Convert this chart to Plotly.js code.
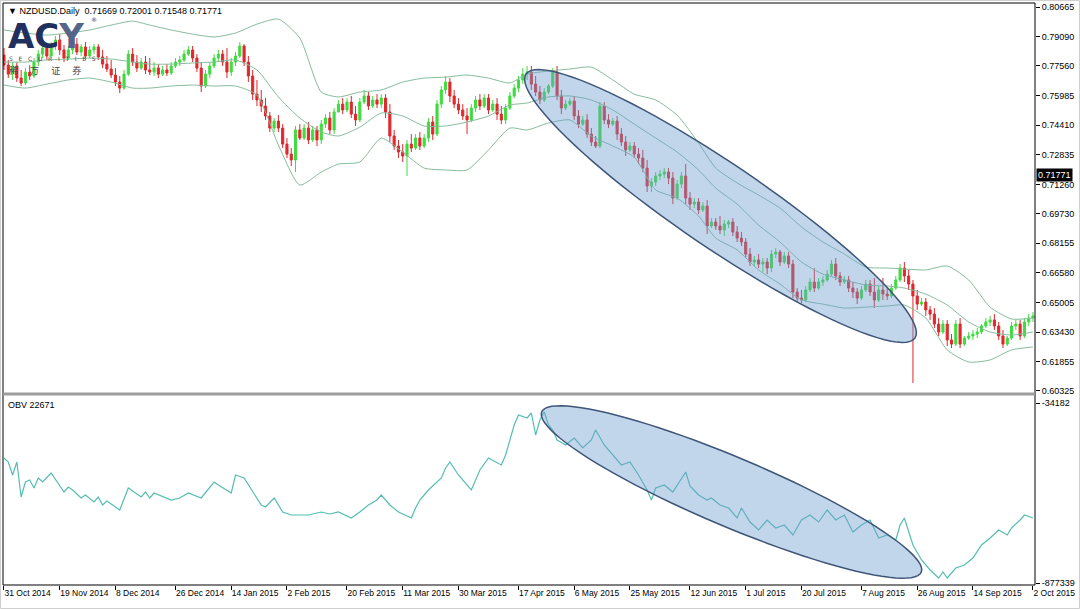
<!DOCTYPE html>
<html><head><meta charset="utf-8">
<script src="https://cdn.plot.ly/plotly-3.0.1.min.js"></script>
<style>html,body{margin:0;padding:0;background:#fff;}#chart{width:1080px;height:609px;}</style>
</head><body><div id="chart"></div>
<script>
// ---- Price data (NZDUSD daily, one bar per weekday, 31 Oct 2014 .. 2 Oct 2015) ----
const open = [
.7812,.7759,.7711,.7754,.7690,.7664,.7722,.7701,.7775,.7817,
.7849,.7807,.7865,.7892,.7839,.7796,.7839,.7870,.7828,.7855,
.7807,.7839,.7855,.7802,.7764,.7738,.7706,.7669,.7637,.7711,
.7817,.7775,.7743,.7775,.7733,.7722,.7743,.7711,.7733,.7717,
.7754,.7775,.7786,.7817,.7839,.7796,.7743,.7648,.7711,.7754,
.7796,.7817,.7775,.7722,.7775,.7807,.7860,.7775,.7701,.7605,
.7574,.7542,.7489,.7425,.7462,.7425,.7340,.7287,.7256,.7415,
.7372,.7425,.7362,.7415,.7362,.7446,.7478,.7415,.7510,.7552,
.7521,.7563,.7499,.7468,.7563,.7595,.7542,.7574,.7552,.7584,
.7510,.7383,.7330,.7298,.7277,.7340,.7319,.7372,.7330,.7372,
.7457,.7393,.7552,.7627,.7669,.7595,.7552,.7521,.7489,.7468,
.7531,.7574,.7542,.7584,.7521,.7552,.7499,.7468,.7531,.7595,
.7637,.7680,.7711,.7722,.7658,.7616,.7574,.7616,.7648,.7722,
.7595,.7531,.7552,.7568,.7489,.7446,.7468,.7393,.7351,.7330,
.7542,.7468,.7446,.7462,.7393,.7351,.7309,.7330,.7287,.7266,
.7213,.7118,.7139,.7171,.7181,.7192,.7160,.7054,.7128,.7171,
.7054,.7022,.7033,.6991,.7012,.6906,.6927,.6906,.6885,.6916,
.6927,.6874,.6842,.6821,.6757,.6715,.6726,.6704,.6715,.6683,
.6757,.6768,.6715,.6747,.6704,.6556,.6524,.6514,.6567,.6609,
.6577,.6609,.6620,.6651,.6704,.6641,.6609,.6620,.6577,.6556,
.6524,.6567,.6598,.6556,.6514,.6567,.6545,.6535,.6577,.6620,
.6683,.6641,.6598,.6535,.6492,.6503,.6461,.6439,.6386,.6344,
.6386,.6302,.6280,.6386,.6280,.6312,.6323,.6333,.6344,.6376,
.6397,.6408,.6376,.6323,.6280,.6312,.6376,.6386,.6323,.6397,
.6418];
const high = [
.7849,.7786,.7775,.7775,.7733,.7743,.7759,.7796,.7839,.7870,
.7870,.7881,.7913,.7923,.7865,.7860,.7892,.7902,.7870,.7881,
.7860,.7870,.7870,.7839,.7807,.7786,.7743,.7701,.7733,.7839,
.7849,.7812,.7796,.7807,.7796,.7775,.7764,.7754,.7764,.7775,
.7796,.7807,.7839,.7860,.7860,.7817,.7775,.7733,.7775,.7817,
.7839,.7839,.7849,.7796,.7828,.7881,.7870,.7807,.7733,.7680,
.7627,.7584,.7510,.7478,.7494,.7446,.7372,.7319,.7436,.7446,
.7446,.7457,.7436,.7436,.7468,.7499,.7510,.7531,.7574,.7584,
.7584,.7595,.7542,.7584,.7627,.7616,.7595,.7605,.7605,.7605,
.7552,.7415,.7362,.7340,.7362,.7393,.7393,.7404,.7393,.7478,
.7489,.7574,.7648,.7701,.7690,.7627,.7584,.7552,.7531,.7552,
.7595,.7605,.7605,.7605,.7574,.7584,.7542,.7552,.7616,.7658,
.7701,.7743,.7754,.7754,.7701,.7648,.7637,.7658,.7743,.7754,
.7627,.7574,.7584,.7595,.7521,.7489,.7499,.7425,.7383,.7563,
.7563,.7499,.7478,.7489,.7425,.7383,.7351,.7351,.7319,.7309,
.7256,.7160,.7192,.7203,.7213,.7213,.7192,.7150,.7192,.7234,
.7086,.7054,.7054,.7033,.7044,.6948,.6948,.6959,.6938,.6938,
.6948,.6906,.6874,.6842,.6789,.6747,.6757,.6736,.6736,.6779,
.6789,.6779,.6768,.6768,.6726,.6577,.6567,.6588,.6630,.6683,
.6630,.6641,.6673,.6726,.6736,.6662,.6641,.6641,.6609,.6577,
.6588,.6620,.6620,.6630,.6588,.6630,.6577,.6598,.6641,.6704,
.6715,.6673,.6620,.6567,.6524,.6524,.6482,.6471,.6418,.6408,
.6408,.6333,.6408,.6418,.6323,.6344,.6355,.6365,.6386,.6418,
.6429,.6439,.6397,.6355,.6323,.6397,.6408,.6408,.6418,.6439,
.6450];
const low = [
.7733,.7690,.7680,.7669,.7648,.7653,.7680,.7690,.7754,.7796,
.7786,.7796,.7839,.7812,.7775,.7786,.7817,.7812,.7807,.7786,
.7796,.7817,.7786,.7743,.7722,.7690,.7648,.7611,.7627,.7701,
.7754,.7722,.7733,.7711,.7706,.7701,.7690,.7701,.7701,.7706,
.7743,.7754,.7775,.7807,.7775,.7722,.7616,.7637,.7690,.7743,
.7775,.7754,.7690,.7701,.7754,.7796,.7754,.7669,.7574,.7542,
.7510,.7468,.7404,.7404,.7404,.7319,.7266,.7224,.7192,.7362,
.7362,.7340,.7351,.7330,.7340,.7425,.7393,.7393,.7510,.7499,
.7510,.7478,.7436,.7457,.7552,.7521,.7531,.7531,.7531,.7478,
.7351,.7309,.7266,.7245,.7171,.7298,.7309,.7309,.7319,.7351,
.7362,.7383,.7531,.7605,.7563,.7531,.7499,.7468,.7393,.7457,
.7510,.7521,.7531,.7499,.7510,.7468,.7446,.7446,.7521,.7584,
.7616,.7658,.7680,.7627,.7595,.7552,.7563,.7605,.7637,.7574,
.7499,.7521,.7542,.7468,.7425,.7436,.7372,.7330,.7319,.7319,
.7446,.7425,.7436,.7362,.7330,.7277,.7298,.7266,.7234,.7192,
.7086,.7086,.7118,.7150,.7160,.7128,.7022,.7044,.7107,.7022,
.6991,.7001,.6969,.6980,.6863,.6895,.6885,.6863,.6853,.6895,
.6853,.6821,.6800,.6736,.6694,.6694,.6683,.6662,.6651,.6662,
.6736,.6694,.6704,.6683,.6524,.6503,.6498,.6503,.6556,.6556,
.6567,.6588,.6609,.6641,.6620,.6588,.6598,.6556,.6524,.6492,
.6514,.6556,.6535,.6471,.6503,.6514,.6514,.6524,.6567,.6609,
.6609,.6567,.6074,.6461,.6482,.6429,.6408,.6365,.6323,.6333,
.6270,.6259,.6270,.6259,.6270,.6302,.6302,.6312,.6333,.6365,
.6376,.6355,.6302,.6259,.6270,.6302,.6355,.6302,.6312,.6376,
.6397];
const close = [
.7759,.7711,.7754,.7690,.7664,.7722,.7701,.7775,.7817,.7849,
.7807,.7865,.7892,.7839,.7796,.7839,.7870,.7828,.7855,.7807,
.7839,.7855,.7802,.7764,.7738,.7706,.7669,.7637,.7711,.7817,
.7775,.7743,.7775,.7733,.7722,.7743,.7711,.7733,.7717,.7754,
.7775,.7786,.7817,.7839,.7796,.7743,.7648,.7711,.7754,.7796,
.7817,.7775,.7722,.7775,.7807,.7860,.7775,.7701,.7605,.7574,
.7542,.7489,.7425,.7462,.7425,.7340,.7287,.7256,.7415,.7372,
.7425,.7362,.7415,.7362,.7446,.7478,.7415,.7510,.7552,.7521,
.7563,.7499,.7468,.7563,.7595,.7542,.7574,.7552,.7584,.7510,
.7383,.7330,.7298,.7277,.7340,.7319,.7372,.7330,.7372,.7457,
.7393,.7552,.7627,.7669,.7595,.7552,.7521,.7489,.7468,.7531,
.7574,.7542,.7584,.7521,.7552,.7499,.7468,.7531,.7595,.7637,
.7680,.7711,.7722,.7658,.7616,.7574,.7616,.7648,.7722,.7595,
.7531,.7552,.7568,.7489,.7446,.7468,.7393,.7351,.7330,.7542,
.7468,.7446,.7462,.7393,.7351,.7309,.7330,.7287,.7266,.7213,
.7118,.7139,.7171,.7181,.7192,.7160,.7054,.7128,.7171,.7054,
.7022,.7033,.6991,.7012,.6906,.6927,.6906,.6885,.6916,.6927,
.6874,.6842,.6821,.6757,.6715,.6726,.6704,.6715,.6683,.6757,
.6768,.6715,.6747,.6704,.6556,.6524,.6514,.6567,.6609,.6577,
.6609,.6620,.6651,.6704,.6641,.6609,.6620,.6577,.6556,.6524,
.6567,.6598,.6556,.6514,.6567,.6545,.6535,.6577,.6620,.6683,
.6641,.6598,.6535,.6492,.6503,.6461,.6439,.6386,.6344,.6386,
.6302,.6280,.6386,.6280,.6312,.6323,.6333,.6344,.6376,.6397,
.6408,.6376,.6323,.6280,.6312,.6376,.6386,.6323,.6397,.6418,
.6429];

// ---- Bollinger bands ----
const bandX = [0,5,10,15,20,25,30,34,39,44,49,54,59,64,69,74,78,83,88,93,98,103,108,113,118,122,127,132,137,142,147,152,157,162,166,171,176,181,186,191,196,201,206,210,215,220,225,230,235,240];
const bandUpper = [0.7945,0.7929,0.7918,0.7929,0.7945,0.7971,0.7992,0.7971,0.7945,0.7923,0.7908,0.7929,0.7976,0.8003,0.7902,0.7616,0.7590,0.7616,0.7627,0.7669,0.7690,0.7695,0.7706,0.7690,0.7664,0.7711,0.7727,0.7738,0.7748,0.7680,0.7605,0.7574,0.7494,0.7346,0.7213,0.7134,0.7070,0.7001,0.6901,0.6821,0.6757,0.6688,0.6683,0.6678,0.6673,0.6694,0.6620,0.6476,0.6413,0.6418];
const bandMiddle = [0.7775,0.7775,0.7786,0.7791,0.7796,0.7791,0.7775,0.7764,0.7764,0.7770,0.7775,0.7786,0.7733,0.7590,0.7478,0.7404,0.7383,0.7430,0.7505,0.7489,0.7436,0.7436,0.7457,0.7489,0.7547,0.7558,0.7590,0.7595,0.7574,0.7521,0.7446,0.7372,0.7298,0.7203,0.7107,0.7022,0.6911,0.6821,0.6715,0.6651,0.6620,0.6593,0.6588,0.6577,0.6545,0.6487,0.6397,0.6344,0.6328,0.6344];
const bandLower = [0.7653,0.7637,0.7658,0.7680,0.7690,0.7669,0.7637,0.7637,0.7648,0.7653,0.7648,0.7648,0.7600,0.7335,0.7123,0.7192,0.7234,0.7245,0.7372,0.7298,0.7213,0.7203,0.7203,0.7309,0.7425,0.7415,0.7452,0.7468,0.7383,0.7330,0.7271,0.7097,0.7054,0.6959,0.6842,0.6779,0.6673,0.6598,0.6514,0.6492,0.6471,0.6476,0.6482,0.6487,0.6418,0.6249,0.6185,0.6196,0.6249,0.6265];

// ---- OBV ----
const obvX = [0,1,2,3,4,5,6,7,8,9,11,14,15,16,18,19,21,22,23,24,27,29,32,33,34,35,39,41,43,46,49,50,53,54,56,57,60,61,63,65,67,68,71,74,76,78,81,83,85,87,88,90,92,95,96,97,99,102,103,104,106,109,111,113,116,117,118,119,120,122,123,124,125,126,127,128,129,131,133,135,137,138,140,142,144,146,148,150,151,152,154,156,158,159,160,162,164,165,167,169,171,172,174,176,178,180,182,184,186,188,190,192,194,196,198,200,202,204,206,208,209,210,212,214,216,218,219,220,222,224,226,228,230,232,234,235,237,238,240];
const obvValues = [-291802,-310538,-371430,-310538,-474478,-404218,-394850,-432322,-385482,-404218,
-362062,-451058,-427638,-441690,-479162,-465110,-497898,-474478,-511950,-493214,
-535370,-432322,-474478,-451058,-479162,-455742,-488530,-479162,-455742,-479162,
-404218,-418270,-455742,-371430,-385482,-418270,-511950,-521318,-479162,-544738,
-558790,-558790,-558790,-544738,-554106,-544738,-572842,-544738,-511950,-488530,
-465110,-511950,-544738,-572842,-526002,-488530,-441690,-385482,-338642,-310538,
-371430,-441690,-348010,-291802,-324590,-277750,-207490,-137230,-90390,-104442,
-81022,-184070,-113810,-76338,-137230,-160650,-207490,-230910,-198122,-244962,
-207490,-160650,-230910,-277750,-324590,-310538,-371430,-441690,-488530,-432322,
-418270,-451058,-385482,-357378,-422954,-465110,-488530,-479162,-511950,-526002,
-572842,-526002,-591578,-629050,-582210,-619682,-605630,-652470,-582210,-558790,
-591578,-535370,-582210,-558790,-638418,-605630,-582210,-666522,-652470,-675890,
-605630,-572842,-699310,-769570,-816410,-853882,-825778,-853882,-807042,-792990,
-760202,-699310,-666522,-629050,-652470,-619682,-582210,-558790,-572842];

// ---- Axis labels ----
const dateTickIdx = [0,13,26,40,53,66,80,93,106,120,133,146,160,173,186,200,213,226,240];
const dateTickText = ['31 Oct 2014','19 Nov 2014','8 Dec 2014','26 Dec 2014','14 Jan 2015','2 Feb 2015','20 Feb 2015','11 Mar 2015','30 Mar 2015','17 Apr 2015','6 May 2015','25 May 2015','12 Jun 2015','1 Jul 2015','20 Jul 2015','7 Aug 2015','26 Aug 2015','14 Sep 2015','2 Oct 2015'];
const priceTicks = [0.80665,0.79090,0.77560,0.75985,0.74410,0.72835,0.71260,0.69730,0.68155,0.66580,0.65005,0.63430,0.61855,0.60325];
const priceTickText = ['0.80665','0.79090','0.77560','0.75985','0.74410','0.72835','0.71260','0.69730','0.68155','0.66580','0.65005','0.63430','0.61855','0.60325'];
const obvTicks = [-34182,-877339];
const obvTickText = ['-34182','-877339'];
const lastPrice = 0.71771;

// ---- layout helpers (pixel -> paper) ----
const W=1080,H=609,L=3,R=45,T=3,B=24;
const PW=W-L-R, PH=H-T-B;
const px=x=>(x-L)/PW, py=y=>(H-B-y)/PH;
function ellipsePath(cx,cy,a,b,deg){
  const th=deg*Math.PI/180; let d='';
  for(let k=0;k<=96;k++){
    const t=2*Math.PI*k/96;
    const X=cx+a*Math.cos(t)*Math.cos(th)-b*Math.sin(t)*Math.sin(th);
    const Y=cy+a*Math.cos(t)*Math.sin(th)+b*Math.sin(t)*Math.cos(th);
    d+=(k?'L':'M')+px(X).toFixed(5)+','+py(Y).toFixed(5);
  }
  return d+'Z';
}

const barIndex = close.map((_,i)=>i);
const font = {family:'Liberation Sans, Arial, sans-serif', size:9, color:'#000'};
const dateFont = {family:'Liberation Sans, Arial, sans-serif', size:8.5, color:'#000'};
const bandColor = '#86bb9b';

const traces = [
  {type:'scatter',mode:'lines',x:bandX,y:bandUpper,line:{color:bandColor,width:1,shape:'spline',smoothing:0.6},xaxis:'x',yaxis:'y',hoverinfo:'skip'},
  {type:'scatter',mode:'lines',x:bandX,y:bandMiddle,line:{color:bandColor,width:1,shape:'spline',smoothing:0.6},xaxis:'x',yaxis:'y',hoverinfo:'skip'},
  {type:'scatter',mode:'lines',x:bandX,y:bandLower,line:{color:bandColor,width:1,shape:'spline',smoothing:0.6},xaxis:'x',yaxis:'y',hoverinfo:'skip'},
  {type:'candlestick',x:barIndex,open:open,high:high,low:low,close:close,xaxis:'x',yaxis:'y',
   increasing:{line:{color:'#3fdc3f',width:1},fillcolor:'#3fdc3f'},
   decreasing:{line:{color:'#e0282c',width:1},fillcolor:'#e0282c'},
   whiskerwidth:0,hoverinfo:'skip'},
  {type:'scatter',mode:'lines',x:obvX,y:obvValues,line:{color:'#55bdb2',width:1.2},xaxis:'x2',yaxis:'y2',hoverinfo:'skip'}
];

const layout = {
  width:W,height:H,margin:{l:L,r:R,t:T,b:B},
  paper_bgcolor:'#fff',plot_bgcolor:'#fff',showlegend:false,
  boxgap:0.3,
  font:font,
  xaxis:{domain:[0,1],anchor:'y',range:[-0.23,240.47],showticklabels:false,ticks:'',showgrid:false,zeroline:false,showline:false,rangeslider:{visible:false}},
  yaxis:{domain:[py(392),1],anchor:'x',side:'right',range:[0.6026,0.8088],tickvals:priceTicks,ticktext:priceTickText,ticks:'outside',ticklen:4,tickcolor:'#000',tickwidth:1,showgrid:false,zeroline:false,showline:false,tickfont:font},
  xaxis2:{domain:[0,1],anchor:'y2',matches:'x',range:[-0.23,240.47],tickvals:dateTickIdx,ticktext:dateTickText,tickangle:0,ticks:'outside',ticklen:4,tickcolor:'#000',ticklabelposition:'outside right',ticklabeloverflow:'allow',showgrid:false,zeroline:false,showline:false,tickfont:dateFont,rangeslider:{visible:false}},
  yaxis2:{domain:[0,py(396)],anchor:'x2',side:'right',range:[-886670,-1394],tickvals:obvTicks,ticktext:obvTickText,ticks:'outside',ticklen:4,tickcolor:'#000',showgrid:false,zeroline:false,showline:false,tickfont:font},
  shapes:[
    {type:'path',xref:'paper',yref:'paper',path:ellipsePath(720.5,206,235,42,34.16),fillcolor:'rgba(110,158,208,0.42)',line:{color:'#3d5578',width:1.5},layer:'above'},
    {type:'path',xref:'paper',yref:'paper',path:ellipsePath(731.5,492,206,34.5,22.9),fillcolor:'rgba(110,158,208,0.42)',line:{color:'#3d5578',width:1.5},layer:'above'},
    {type:'rect',xref:'paper',yref:'paper',x0:0,x1:1,y0:0,y1:1,line:{color:'#000',width:1},layer:'above'},
    {type:'line',xref:'paper',yref:'paper',x0:0,x1:1,y0:py(394),y1:py(394),line:{color:'#9c9c9c',width:3},layer:'above'},
    {type:'rect',xref:'paper',yref:'paper',x0:px(0.5),x1:px(1079.5),y0:py(608.5),y1:py(0.5),line:{color:'#cfcfcf',width:1},layer:'below'}
  ],
  annotations:[
    {xref:'paper',yref:'paper',x:px(6),y:py(11),xanchor:'left',yanchor:'middle',showarrow:false,text:'\u25BC NZDUSD.Daily  0.71669 0.72001 0.71548 0.71771',font:font},
    {xref:'paper',yref:'paper',x:px(6),y:py(405),xanchor:'left',yanchor:'middle',showarrow:false,text:'OBV 22671',font:font},
    {xref:'paper',yref:'y',x:px(1036),y:lastPrice,xanchor:'left',yanchor:'middle',showarrow:false,text:'0.71771',font:{family:font.family,size:9,color:'#fff'},bgcolor:'#000',borderpad:1},
    {xref:'paper',yref:'paper',x:px(7),y:py(36),xanchor:'left',yanchor:'middle',showarrow:false,text:'<b>AC</b><b><span style="color:#55658a">Y</span></b>',font:{family:'DejaVu Sans, sans-serif',size:34,color:'#1f2f5e'},borderpad:0},
    {xref:'paper',yref:'paper',x:px(90),y:py(19),xanchor:'left',yanchor:'middle',showarrow:false,text:'\u00AE',font:{family:'DejaVu Sans',size:6,color:'#1f2f5e'},borderpad:0},
    {xref:'paper',yref:'paper',x:px(8),y:py(59),xanchor:'left',yanchor:'middle',showarrow:false,text:'S   E   C   U   R   I   T   I   E   S',font:{family:'DejaVu Sans',size:6,color:'#4a4a4a'},borderpad:0},
    {xref:'paper',yref:'paper',x:px(8),y:py(70),xanchor:'left',yanchor:'middle',showarrow:false,text:'稀      万      证      券',font:{family:'Noto Sans CJK SC, sans-serif',size:9,color:'#4a4a4a'},borderpad:0}
  ]
};

Plotly.newPlot('chart',traces,layout,{displayModeBar:false,staticPlot:true});
</script></body></html>
